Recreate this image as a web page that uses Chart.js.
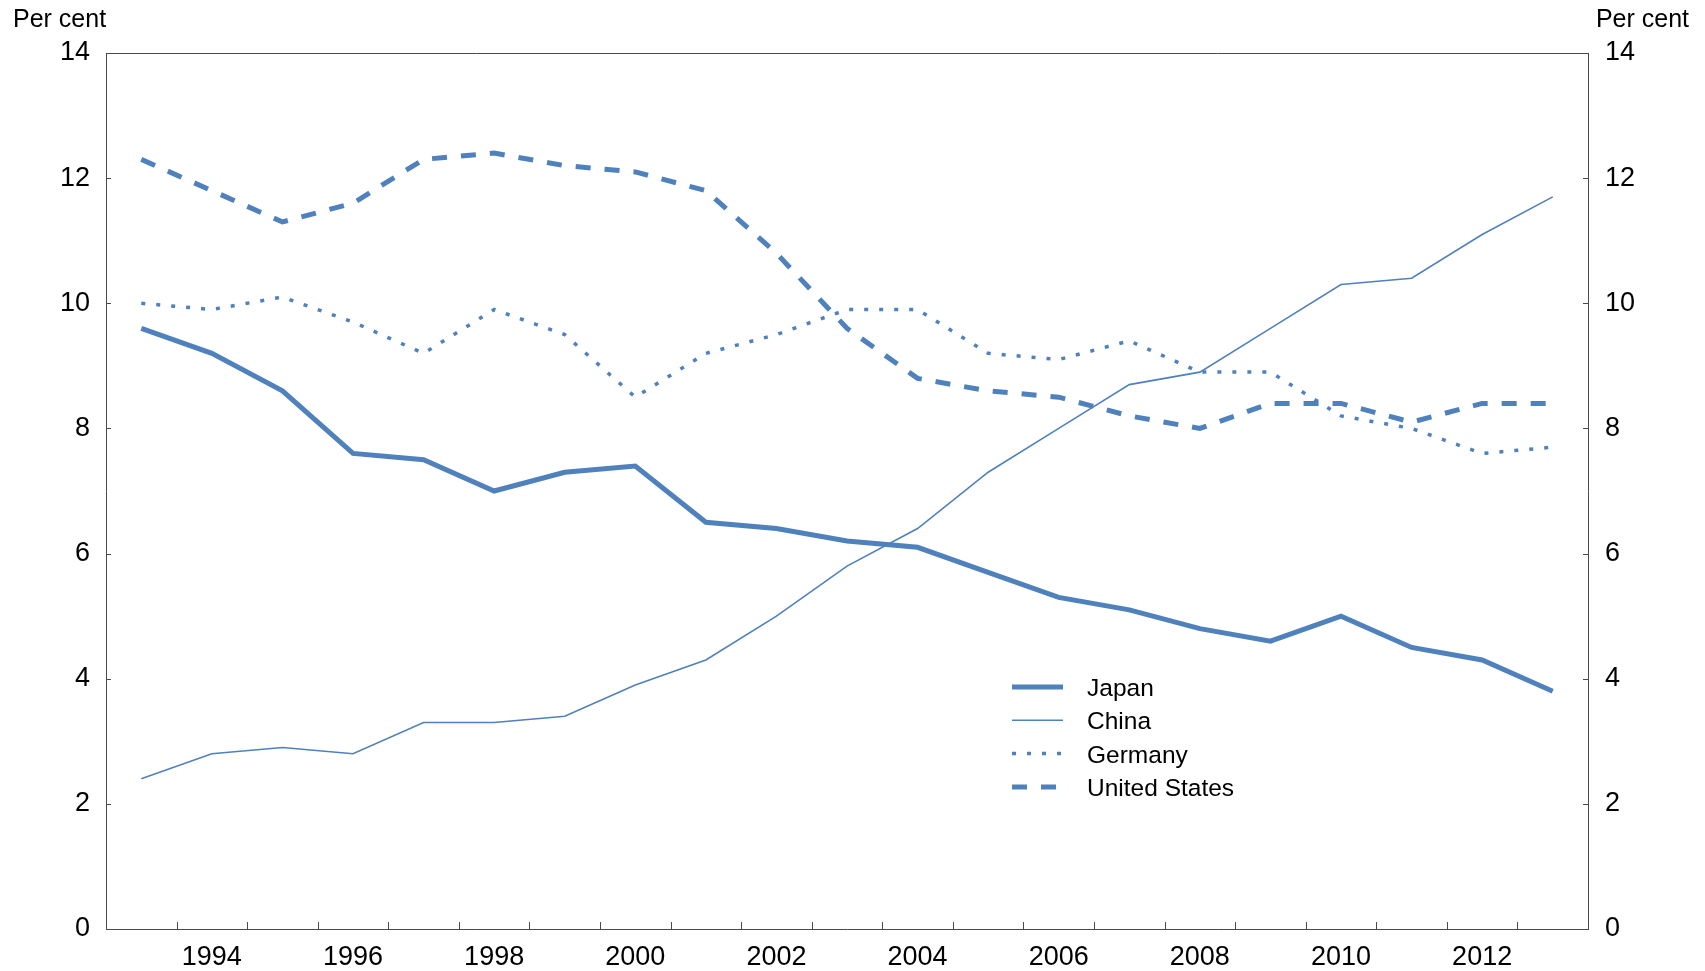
<!DOCTYPE html>
<html>
<head>
<meta charset="utf-8">
<script src="https://cdn.jsdelivr.net/npm/chart.js@4.4.1/dist/chart.umd.min.js"></script>
<style>
  html, body { margin: 0; padding: 0; background: #fff; }
  #wrap { width: 1705px; height: 971px; }
</style>
</head>
<body>
<div id="wrap"><canvas id="growthChart" width="1705" height="971"></canvas></div>
<script>
const years = ['1993', '1994', '1995', '1996', '1997', '1998', '1999', '2000', '2001', '2002', '2003',
    '2004', '2005', '2006', '2007', '2008', '2009', '2010', '2011', '2012', '2013'];
const japan = [9.6, 9.2, 8.6, 7.6, 7.5, 7.0, 7.3, 7.4, 6.5, 6.4, 6.2, 6.1, 5.7, 5.3, 5.1, 4.8, 4.6, 5.0, 4.5, 4.3, 3.8];
const china = [2.4, 2.8, 2.9, 2.8, 3.3, 3.3, 3.4, 3.9, 4.3, 5.0, 5.8, 6.4, 7.3, 8.0, 8.7, 8.9, 9.6, 10.3, 10.4, 11.1, 11.7];
const germany = [10.0, 9.9, 10.1, 9.7, 9.2, 9.9, 9.5, 8.5, 9.2, 9.5, 9.9, 9.9, 9.2, 9.1, 9.4, 8.9, 8.9, 8.2, 8.0, 7.6, 7.7];
const unitedStates = [12.3, 11.8, 11.3, 11.6, 12.3, 12.4, 12.2, 12.1, 11.8, 10.8, 9.6, 8.8, 8.6, 8.5, 8.2, 8.0, 8.4, 8.4, 8.1, 8.4, 8.4];
const yTicks = [0, 2, 4, 6, 8, 10, 12, 14];

const blue = '#4f81bd';
const axisColor = '#4a4a4a';
const fontFamily = "'Liberation Sans', Arial, sans-serif";

Chart.defaults.font.family = fontFamily;
Chart.defaults.color = '#000';

const data = {
    labels: years,
    datasets: [
        { label: 'Japan', data: japan, borderColor: blue, borderWidth: 5 },
        { label: 'China', data: china, borderColor: blue, borderWidth: 1.6 },
        { label: 'Germany', data: germany, borderColor: blue, borderWidth: 3.5, borderDash: [4, 11], borderCapStyle: 'butt' },
        { label: 'United States', data: unitedStates, borderColor: blue, borderWidth: 5, borderDash: [15, 14] }
    ]
};

// inward tick marks, top frame, "Per cent" captions and the legend box
const decorations = {
    id: 'decorations',
    afterDraw(chart) {
        const ctx = chart.ctx;
        const area = chart.chartArea;
        const x = chart.scales.x;
        const y = chart.scales.y;
        ctx.save();
        ctx.strokeStyle = axisColor;
        ctx.lineWidth = 1;
        ctx.setLineDash([]);

        ctx.beginPath();
        ctx.moveTo(area.left, area.top + 0.5);
        ctx.lineTo(area.right, area.top + 0.5);
        ctx.stroke();

        const band = x.getPixelForValue(1) - x.getPixelForValue(0);
        ctx.beginPath();
        for (let i = 1; i < years.length; i++) {
            const px = Math.round(x.getPixelForValue(i) - band / 2) + 0.5;
            ctx.moveTo(px, area.bottom);
            ctx.lineTo(px, area.bottom - 7);
        }
        yTicks.forEach(v => {
            const py = Math.round(y.getPixelForValue(v)) + 0.5;
            ctx.moveTo(area.left, py);
            ctx.lineTo(area.left + 5, py);
            ctx.moveTo(area.right, py);
            ctx.lineTo(area.right - 5, py);
        });
        ctx.stroke();

        ctx.fillStyle = '#000';
        ctx.font = '25px ' + fontFamily;
        ctx.textBaseline = 'alphabetic';
        ctx.textAlign = 'left';
        ctx.fillText('Per cent', 13, 27);
        ctx.textAlign = 'right';
        ctx.fillText('Per cent', 1689, 27);

        // legend
        ctx.font = '24.5px ' + fontFamily;
        ctx.textAlign = 'left';
        chart.data.datasets.forEach((ds, i) => {
            const ly = 687 + i * 33.3;
            ctx.strokeStyle = ds.borderColor;
            ctx.lineWidth = ds.borderWidth;
            ctx.setLineDash(ds.borderDash || []);
            ctx.beginPath();
            ctx.moveTo(1012, ly);
            ctx.lineTo(1063, ly);
            ctx.stroke();
            ctx.fillStyle = '#000';
            ctx.fillText(ds.label, 1087, ly + 9);
        });
        ctx.restore();
    }
};

const options = {
    responsive: false,
    animation: false,
    layout: { padding: { top: 53, left: 0, right: 0, bottom: 0 } },
    elements: {
        point: { radius: 0 },
        line: { tension: 0, fill: false }
    },
    plugins: {
        legend: { display: false },
        tooltip: { enabled: false }
    },
    scales: {
        x: {
            type: 'category',
            offset: true,
            grid: { display: false, offset: true, drawTicks: false },
            border: { display: true, color: axisColor, width: 1 },
            ticks: {
                autoSkip: false,
                maxRotation: 0,
                padding: 12,
                font: { size: 27 },
                callback: function (value) {
                    const label = this.getLabelForValue(value);
                    return Number(label) % 2 === 0 ? label : '';
                }
            },
            afterFit(scale) { scale.height = 42; }
        },
        y: {
            position: 'left',
            min: 0,
            max: 14,
            grid: { display: false, drawTicks: false },
            border: { display: true, color: axisColor, width: 1 },
            ticks: { stepSize: 2, padding: 16, font: { size: 27 } },
            afterFit(scale) { scale.width = 106; }
        },
        y2: {
            position: 'right',
            display: true,
            min: 0,
            max: 14,
            grid: { display: false, drawTicks: false },
            border: { display: true, color: axisColor, width: 1 },
            ticks: { stepSize: 2, padding: 17, font: { size: 27 } },
            afterFit(scale) { scale.width = 117; }
        }
    }
};

const ctx = document.getElementById('growthChart');
const growthChart = new Chart(ctx, {
    type: 'line',
    data: data,
    options: options,
    plugins: [decorations]
});
</script>
</body>
</html>
